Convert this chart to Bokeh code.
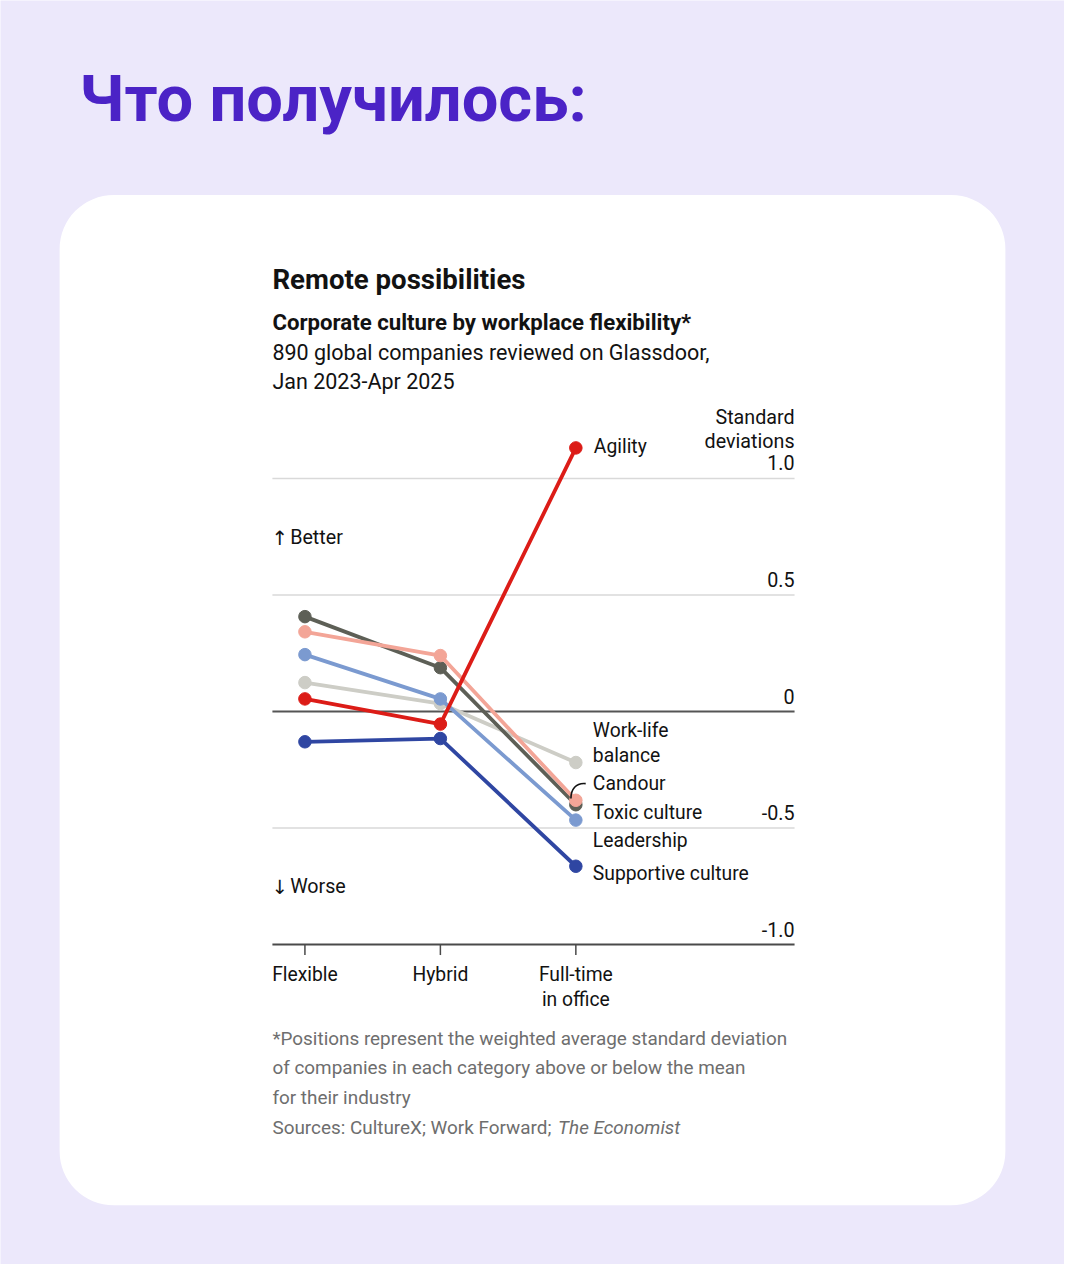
from bokeh.plotting import figure
from bokeh.models import Range1d, BoxAnnotation
from bokeh.core.properties import value
from bokeh.embed import file_html
from bokeh.resources import INLINE

# ---------------- data ----------------
categories = ["Flexible", "Hybrid", "Full-time"]
categories_line2 = ["", "", "in office"]
x_pos = [0, 1, 2]

agility = [0.054, -0.054, 1.131]
toxic_culture = [0.407, 0.188, -0.400]
candour = [0.342, 0.240, -0.381]
leadership = [0.244, 0.054, -0.466]
work_life = [0.124, 0.034, -0.219]
supportive = [-0.130, -0.116, -0.664]

y_ticks = [1.0, 0.5, 0.0, -0.5, -1.0]
y_tick_labels = ["1.0", "0.5", "0", "-0.5", "-1.0"]

# ---------------- figure ----------------
W, H = 1064, 1264
REFW, REFH = 1080, 1280
S = W / REFW  # font scale
# layout (reference pixel space): Flexible at x 309, Full-time at 584; y=0 at 720, 236 px per unit
xu = (584 - 309) / 2.0
yu = 236.0
x0p, y0p = 309, 720

p = figure(width=W, height=H, output_backend="svg", toolbar_location=None,
           x_range=Range1d((0 - x0p) / xu, (REFW - x0p) / xu),
           y_range=Range1d((y0p - REFH) / yu, y0p / yu),
           x_axis_location=None, y_axis_location=None, min_border=0,
           outline_line_color=None, background_fill_color="#ece8fb",
           border_fill_color="#ece8fb")
p.grid.visible = False
p.extra_x_ranges = {"px": Range1d(0, REFW)}
p.extra_y_ranges = {"py": Range1d(REFH, 0)}

# card
card = BoxAnnotation(left=60, right=1020, top=197, bottom=1220,
                     x_range_name="px", y_range_name="py",
                     fill_color="white", fill_alpha=1.0, line_color=None,
                     border_radius=int(round(55 * S)), level="underlay")
p.add_layout(card)

FONT = "Roboto"
INK = "#121212"
GREY = "#6e6e6e"


def txt(x, y, s, size, color=INK, style="normal", align="left", baseline="middle",
        font=FONT, xr="px", yr="py", x_offset=0, y_offset=0):
    if not isinstance(x, list):
        x, y, s = [x], [y], [s]
    kw = {}
    if xr:
        kw["x_range_name"] = xr
    if yr:
        kw["y_range_name"] = yr
    p.text(x=x, y=y, text=s, text_font=value(font),
           text_font_size=value(f"{size * S:.1f}px"),
           text_color=color, text_font_style=style, text_align=align,
           text_baseline=baseline, x_offset=x_offset, y_offset=y_offset, **kw)


# headline
txt(80, 100, "Что получилось:", 66, color="#4b23c6", style="bold")

# chart titles
txt(276, 283, "Remote possibilities", 28, style="bold")
txt(276, 326, "Corporate culture by workplace flexibility*", 22.5, style="bold")
txt(276, 356, "890 global companies reviewed on Glassdoor,", 21.8)
txt(276, 386, "Jan 2023-Apr 2025", 21.8)

# gridlines
light = [t for t in y_ticks if t not in (0.0, -1.0)]
p.segment(x0=[276] * len(light), x1=[806] * len(light), y0=light, y1=light,
          x_range_name="px", line_color="#d9d9d9", line_width=1.5)
p.segment(x0=[276], x1=[806], y0=[0.0], y1=[0.0], x_range_name="px",
          line_color="#555555", line_width=2)
p.segment(x0=[276], x1=[806], y0=[-1.0], y1=[-1.0], x_range_name="px",
          line_color="#4a4a4a", line_width=2)
# ticks
p.segment(x0=x_pos, x1=x_pos, y0=[-1.0] * 3, y1=[-1.045] * 3,
          line_color="#4a4a4a", line_width=1.5)

# y tick labels (right side, above gridlines)
p.text(x=[806] * len(y_ticks), y=y_ticks, text=y_tick_labels, x_range_name="px",
       text_font=value(FONT), text_font_size=value(f"{20 * S:.1f}px"), text_color=INK,
       text_align="right", text_baseline="bottom", y_offset=-8)
txt(806, 422, "Standard", 20, align="right")
txt(806, 447, "deviations", 20, align="right")

# better / worse
txt(275, 545, "↑", 20, font="DejaVu Sans")
txt(294, 544, "Better", 20)
txt(275, 898, "↓", 20, font="DejaVu Sans")
txt(294, 897, "Worse", 20)

# series
series = [
    ("Work-life balance", work_life, "#cdcdc6"),
    ("Supportive culture", supportive, "#2f46a2"),
    ("Leadership", leadership, "#7b9ad0"),
    ("Toxic culture", toxic_culture, "#5d5f56"),
    ("Candour", candour, "#f3a597"),
    ("Agility", agility, "#dc1c17"),
]
for name, vals, col in series:
    p.line(x=x_pos, y=vals, line_color=col, line_width=3.8)
    p.scatter(x=x_pos, y=vals, size=12.5, fill_color=col, line_color=col)

# series labels (positions adjusted to avoid overlap)
lab_x = 2
txt([lab_x], [452], ["Agility"], 19.6, xr=None, x_offset=18)
txt([lab_x] * 6, [739, 765, 793, 822, 851, 884],
    ["Work-life", "balance", "Candour", "Toxic culture", "Leadership", "Supportive culture"],
    19.6, xr=None, x_offset=17)
# candour pointer
p.bezier(x0=[594], y0=[793], x1=[579], y1=[808], cx0=[584], cy0=[792], cx1=[579], cy1=[799],
         x_range_name="px", y_range_name="py", line_color=INK, line_width=1.6)

# x category labels
txt(x_pos, [986] * 3, categories, 19.6, align="center", xr=None)
txt(x_pos, [1012] * 3, categories_line2, 19.6, align="center", xr=None)

# footnote
txt(276, 1051, "*Positions represent the weighted average standard deviation", 19.2, color=GREY)
txt(276, 1081, "of companies in each category above or below the mean", 19.2, color=GREY)
txt(276, 1111, "for their industry", 19.2, color=GREY)
txt(276, 1141, "Sources: CultureX; Work Forward;", 19.2, color=GREY)
txt(566, 1141, "The Economist", 19.2, color=GREY, style="italic")

open("out.html", "w").write(file_html(p, INLINE))
